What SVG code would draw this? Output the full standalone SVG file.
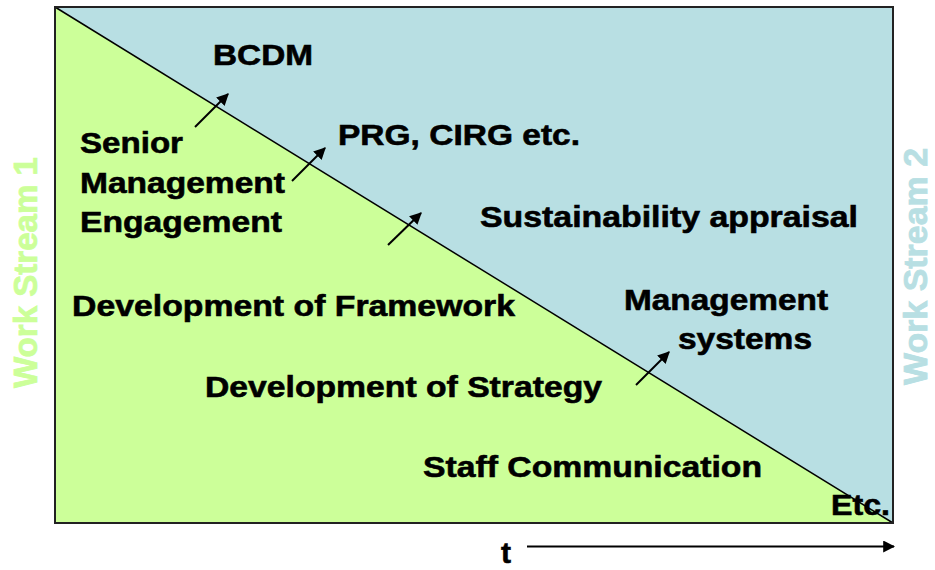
<svg xmlns="http://www.w3.org/2000/svg" width="935" height="570" viewBox="0 0 935 570">
<style>
.lbl{font-family:"Liberation Sans",Arial,sans-serif;font-weight:bold;font-size:30px;fill:#000;stroke:#000;stroke-width:0.6}
.ws{font-family:"Liberation Sans",Arial,sans-serif;font-weight:bold;font-size:33px;stroke-width:0.8}
.arr{stroke:#000;stroke-width:2;fill:none;marker-end:url(#ah)}
</style>
<defs>
<marker id="ah" viewBox="0 0 10 10" refX="9" refY="5" markerWidth="6" markerHeight="6" markerUnits="strokeWidth" orient="auto">
<path d="M0,0 L10,5 L0,10 Z" fill="#000"/>
</marker>
</defs>
<rect width="935" height="570" fill="#fff"/>
<g id="background">
<polygon points="55,7 893,7 893,523" fill="#B8DFE3"/>
<polygon points="55,7 55,523 893,523" fill="#CCFF99"/>
<line x1="55" y1="7" x2="893" y2="523" stroke="#000" stroke-width="1.5"/>
<rect x="55" y="7" width="838" height="516" fill="none" stroke="#222" stroke-width="2"/>
</g>
<g id="ws1"><text class="ws" fill="#CCFF99" stroke="#CCFF99" transform="translate(37,388) rotate(-90)" textLength="231" lengthAdjust="spacingAndGlyphs">Work Stream 1</text></g>
<g id="ws2"><text class="ws" fill="#B8DFE3" stroke="#B8DFE3" transform="translate(927,385) rotate(-90)" textLength="237" lengthAdjust="spacingAndGlyphs">Work Stream 2</text></g>
<g id="bcdm"><text class="lbl" x="213" y="65" textLength="100" lengthAdjust="spacingAndGlyphs">BCDM</text></g>
<g id="senior">
<text class="lbl" x="80" y="153" textLength="103" lengthAdjust="spacingAndGlyphs">Senior</text>
<text class="lbl" x="80" y="193" textLength="205" lengthAdjust="spacingAndGlyphs">Management</text>
<text class="lbl" x="80" y="232" textLength="202" lengthAdjust="spacingAndGlyphs">Engagement</text>
</g>
<g id="prg"><text class="lbl" x="338" y="145" textLength="242" lengthAdjust="spacingAndGlyphs">PRG, CIRG etc.</text></g>
<g id="sust"><text class="lbl" x="480" y="227" textLength="378" lengthAdjust="spacingAndGlyphs">Sustainability appraisal</text></g>
<g id="framework"><text class="lbl" x="72" y="316" textLength="443" lengthAdjust="spacingAndGlyphs">Development of Framework</text></g>
<g id="mgmt">
<text class="lbl" x="624" y="310" textLength="204" lengthAdjust="spacingAndGlyphs">Management</text>
<text class="lbl" x="678" y="349" textLength="134" lengthAdjust="spacingAndGlyphs">systems</text>
</g>
<g id="strategy"><text class="lbl" x="205" y="397" textLength="397" lengthAdjust="spacingAndGlyphs">Development of Strategy</text></g>
<g id="staff"><text class="lbl" x="423" y="477" textLength="339" lengthAdjust="spacingAndGlyphs">Staff Communication</text></g>
<g id="etc"><text class="lbl" x="831" y="515" textLength="59" lengthAdjust="spacingAndGlyphs">Etc.</text></g>
<g id="t"><text class="lbl" x="501" y="563">t</text></g>
<g id="connectors">
<line class="arr" x1="195" y1="127" x2="228" y2="94"/>
<line class="arr" x1="292" y1="181" x2="325" y2="148"/>
<line class="arr" x1="388" y1="245" x2="421" y2="213"/>
<line class="arr" x1="636" y1="385" x2="669" y2="352"/>
<line class="arr" x1="527" y1="546.5" x2="894" y2="546.5"/>
</g>
</svg>
